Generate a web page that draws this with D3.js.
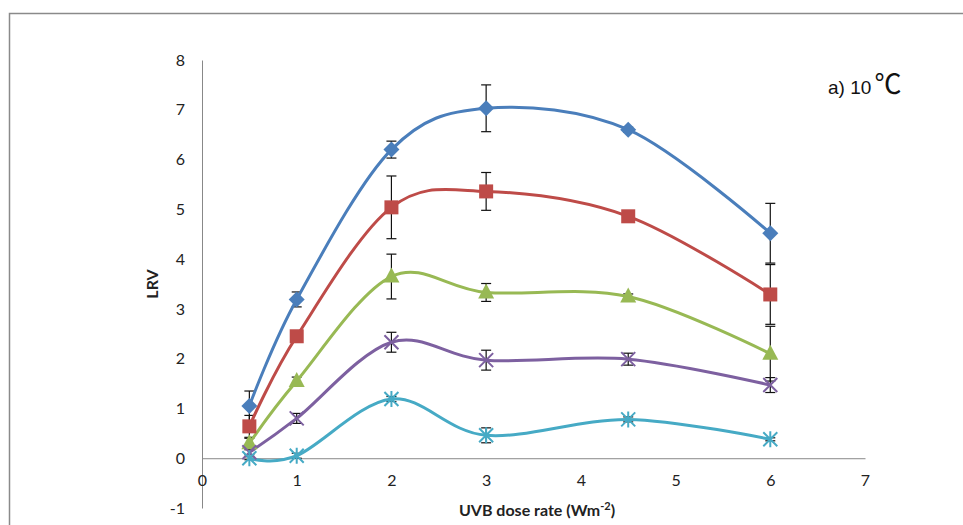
<!DOCTYPE html>
<meta charset="utf-8">
<style>
body {
  margin: 0;
  background: #fff;
  font-family: Lato, "Open Sans", sans-serif;
}
.tick text {
  font-size: 16px;
  font-family: Lato, "Open Sans", sans-serif;
  fill: #222;
}
</style>
<body>
<script src="https://cdn.jsdelivr.net/npm/d3@7/dist/d3.min.js"></script>
<script>

var width = 963,
    height = 525;

// doses (x) and LRV per series, with error (+/-)
var doses = [0.5, 1, 2, 3, 4.5, 6];

var blueVals  = [1.05, 3.19, 6.20, 7.03, 6.60, 4.52];
var blueErr   = [0.30, 0.15, 0.17, 0.47, 0.05, 0.60];
var redVals   = [0.64, 2.45, 5.04, 5.36, 4.86, 3.29];
var redErr    = [0.22, 0.10, 0.63, 0.38, 0.10, 0.60];
var greenVals = [0.30, 1.55, 3.65, 3.33, 3.25, 2.10];
var greenErr  = [0.10, 0.08, 0.45, 0.18, 0.05, 0.55];
var purpleVals = [0.12, 0.80, 2.33, 1.97, 1.99, 1.47];
var purpleErr  = [0.05, 0.10, 0.20, 0.20, 0.12, 0.15];
var cyanVals  = [0.00, 0.05, 1.19, 0.46, 0.78, 0.38];
var cyanErr   = [0.03, 0.05, 0.05, 0.15, 0.05, 0.03];

var xTicks = [0, 1, 2, 3, 4, 5, 6, 7];
var yTicks = [-1, 0, 1, 2, 3, 4, 5, 6, 7, 8];

var series = [
  {name: "blue",   color: "#4a7ebb", marker: "diamond",  vals: blueVals,   err: blueErr},
  {name: "red",    color: "#be4b48", marker: "square",   vals: redVals,    err: redErr},
  {name: "green",  color: "#98b954", marker: "triangle", vals: greenVals,  err: greenErr},
  {name: "purple", color: "#7d60a0", marker: "x",        vals: purpleVals, err: purpleErr},
  {name: "cyan",   color: "#46aac5", marker: "star",     vals: cyanVals,   err: cyanErr}
];

var x = d3.scaleLinear().domain([0, 7]).range([202, 865]);
var y = d3.scaleLinear().domain([-1, 8]).range([508, 60]);

var svg = d3.select("body").append("svg")
    .attr("width", width)
    .attr("height", height);

// outer frame (clipped on right and bottom)
svg.append("path")
    .attr("d", "M9.5," + height + "V13.5H" + width)
    .attr("fill", "none")
    .attr("stroke", "#8a8a8a")
    .attr("stroke-width", 1.5);

var fmt = function(d) { return String(d); };

// y axis
var yAxis = svg.append("g")
    .attr("transform", "translate(" + x(0) + ",0)")
    .call(d3.axisLeft(y).tickValues(yTicks).tickFormat(fmt).tickSize(0).tickPadding(17));
yAxis.select(".domain").attr("stroke", "#888");

// x axis at y = 0
var xAxis = svg.append("g")
    .attr("transform", "translate(0," + y(0) + ")")
    .call(d3.axisBottom(x).tickValues(xTicks).tickFormat(fmt).tickSize(0).tickPadding(16));
xAxis.select(".domain").attr("stroke", "#888");

// axis titles
svg.append("text")
    .attr("x", 537)
    .attr("y", 516)
    .attr("text-anchor", "middle")
    .style("font-size", "16px")
    .style("font-weight", "bold")
    .attr("fill", "#222")
    .text("UVB dose rate (Wm")
  .append("tspan")
    .attr("dy", -6)
    .style("font-size", "11px")
    .text("-2")
  .select(function() { return this.parentNode; })
  .append("tspan")
    .attr("dy", 6)
    .text(")");

svg.append("text")
    .attr("transform", "translate(158," + y(3.5) + ") rotate(-90)")
    .attr("text-anchor", "middle")
    .style("font-size", "16px")
    .style("font-weight", "bold")
    .attr("fill", "#222")
    .text("LRV");

// panel label
var lab = svg.append("text")
    .attr("x", 828)
    .attr("y", 94)
    .style("font-family", "'Liberation Sans', Arial, sans-serif")
    .style("font-size", "19px")
    .attr("fill", "#111")
    .text("a) 10 ");
lab.append("tspan")
    .attr("dx", -2)
    .style("font-family", "'Noto Sans CJK SC', serif")
    .style("font-size", "27px")
    .text("℃");

var line = d3.line()
    .x(function(d) { return x(d[0]); })
    .y(function(d) { return y(d[1]); })
    .curve(d3.curveCardinal.tension(0));

// error bars
series.forEach(function(s) {
  var g = svg.append("g").attr("class", "err");
  doses.forEach(function(dv, i) {
    var cx = x(dv), lo = y(s.vals[i] - s.err[i]), hi = y(s.vals[i] + s.err[i]);
    g.append("line").attr("x1", cx).attr("x2", cx).attr("y1", lo).attr("y2", hi);
    g.append("line").attr("x1", cx - 5).attr("x2", cx + 5).attr("y1", lo).attr("y2", lo);
    g.append("line").attr("x1", cx - 5).attr("x2", cx + 5).attr("y1", hi).attr("y2", hi);
  });
  g.selectAll("line").attr("stroke", "#111").attr("stroke-width", 1.2);
});

// lines
series.forEach(function(s) {
  svg.append("path")
      .datum(doses.map(function(dv, i) { return [dv, s.vals[i]]; }))
      .attr("fill", "none")
      .attr("stroke", s.color)
      .attr("stroke-width", 3)
      .attr("d", line);
});

// markers
series.forEach(function(s) {
  var g = svg.append("g");
  doses.forEach(function(dv, i) {
    var cx = x(dv), cy = y(s.vals[i]);
    if (s.marker === "diamond") {
      g.append("path").attr("d", "M" + cx + "," + (cy - 8) + "L" + (cx + 8) + "," + cy + "L" + cx + "," + (cy + 8) + "L" + (cx - 8) + "," + cy + "Z")
          .attr("fill", s.color);
    } else if (s.marker === "square") {
      g.append("rect").attr("x", cx - 7).attr("y", cy - 7).attr("width", 14).attr("height", 14)
          .attr("fill", s.color);
    } else if (s.marker === "triangle") {
      g.append("path").attr("d", "M" + cx + "," + (cy - 9) + "L" + (cx + 8) + "," + (cy + 6) + "L" + (cx - 8) + "," + (cy + 6) + "Z")
          .attr("fill", s.color);
    } else if (s.marker === "x") {
      g.append("path").attr("d", "M" + (cx - 7) + "," + (cy - 7) + "L" + (cx + 7) + "," + (cy + 7) + "M" + (cx + 7) + "," + (cy - 7) + "L" + (cx - 7) + "," + (cy + 7))
          .attr("stroke", s.color).attr("stroke-width", 2);
    } else {
      g.append("path").attr("d", "M" + (cx - 7) + "," + (cy - 7) + "L" + (cx + 7) + "," + (cy + 7) + "M" + (cx + 7) + "," + (cy - 7) + "L" + (cx - 7) + "," + (cy + 7) + "M" + cx + "," + (cy - 8) + "L" + cx + "," + (cy + 8))
          .attr("stroke", s.color).attr("stroke-width", 2);
    }
  });
});

</script>
